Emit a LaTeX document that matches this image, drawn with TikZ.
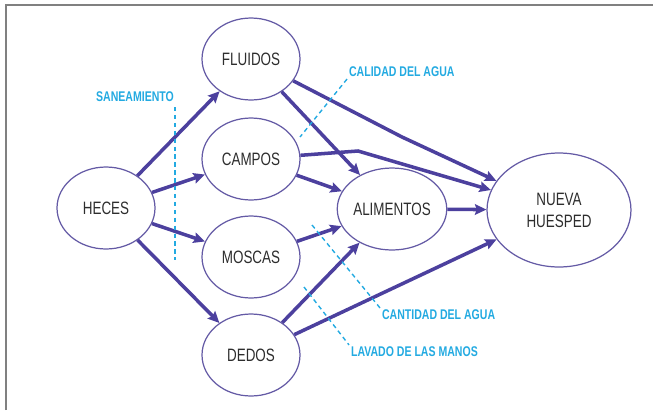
\documentclass[tikz,border=0pt]{standalone}
\usepackage{fontspec}
\setmainfont{Liberation Sans}[FakeStretch=0.75]
\usepackage{xcolor}
\usetikzlibrary{shapes.geometric, arrows.meta}

\definecolor{flechacol}{RGB}{76,64,158}
\definecolor{bordecol}{RGB}{100,90,165}
\definecolor{barreracol}{RGB}{35,170,225}
\definecolor{textocol}{RGB}{45,45,45}

\begin{document}
\begin{tikzpicture}[x=0.02cm, y=-0.02cm,
		estado/.style = {ellipse, draw = bordecol, line width = 0.7pt, inner sep = 0pt,
			minimum width = 1.96cm, minimum height = 1.64cm, text = textocol, align = center,
			font = \fontsize{10.2pt}{12.5pt}\selectfont},
		flecha/.style = {-{Stealth[inset = 1pt, length = 6.5pt, width = 6pt]}, flechacol, line width = 2pt},
		barrera/.style = {barreracol, dashed, dash pattern = on 2.5pt off 2pt, line width = 0.8pt},
		etiqueta/.style = {text = barreracol, inner sep = 1pt, font = \fontsize{8pt}{9pt}\selectfont\bfseries}]
		
		\useasboundingbox (0,0) rectangle (653,410);
		\draw [gray, line width = 1.2pt] (6,410) -- (6,5) -- (653,5);
		
		% los estados
		\node [estado] (heces) at (106,208) {HECES};
		\node [estado] (fluidos) at (251,59) {FLUIDOS};
		\node [estado] (campos) at (251,159) {CAMPOS};
		\node [estado] (moscas) at (251,257) {MOSCAS};
		\node [estado] (dedos) at (251,355) {DEDOS};
		\node [estado, minimum width = 2cm] (alimentos) at (392,209) {ALIMENTOS};
		\node [estado, minimum width = 2.88cm, minimum height = 2.28cm] (huesped) at (559,210) {NUEVA\\HUESPED};
		
		\coordinate (codoF) at (402,137);
		\coordinate (codoC) at (358,151);
		
		% las rutas
		\begin{scope}[flecha]
			\draw (heces) -- (fluidos);
			\draw (heces) -- (campos);
			\draw (heces) -- (moscas);
			\draw (heces) -- (dedos);
			\draw (fluidos) -- (alimentos);
			\draw (campos) -- (alimentos);
			\draw (moscas) -- (alimentos);
			\draw (dedos) -- (alimentos);
			\draw (alimentos) -- (huesped);
			\draw (dedos) -- (huesped);
			\draw (fluidos) -- (codoF) -- (huesped);
			\draw (campos) -- (codoC) -- (huesped);
		\end{scope}
		
		% las barreras
		\node [etiqueta, anchor = east] (saneamiento) at (176,97) {SANEAMIENTO};
		\node [etiqueta, anchor = west] (calidad) at (347,72) {CALIDAD DEL AGUA};
		\node [etiqueta, anchor = west] (cantidad) at (380,315) {CANTIDAD DEL AGUA};
		\node [etiqueta, anchor = west] (lavado) at (349,352) {LAVADO DE LAS MANOS};
		
		\coordinate (sanA) at (175,107);
		\coordinate (sanB) at (175,260);
		\coordinate (calB) at (300,137);
		\coordinate (canA) at (312,225);
		\coordinate (lavA) at (304,287);
		
		\begin{scope}[barrera]
			\draw (sanA) -- (sanB);
			\draw (calidad.south west) -- (calB);
			\draw (canA) -- (cantidad.north west);
			\draw (lavA) -- (lavado.north west);
		\end{scope}
	\end{tikzpicture}
\end{document}
